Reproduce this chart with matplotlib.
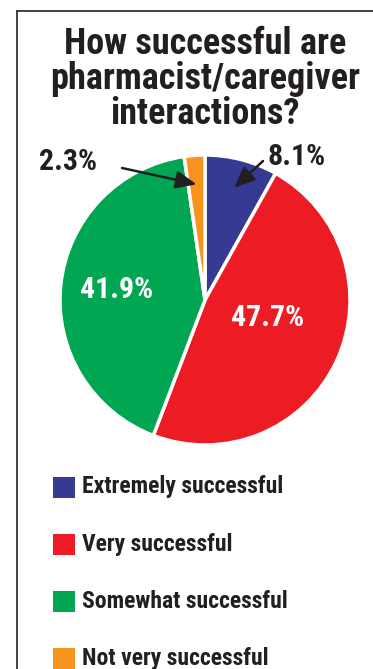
import matplotlib.pyplot as plt
import numpy as np
from matplotlib import font_manager
from matplotlib.lines import Line2D
from matplotlib.patches import Rectangle

categories = ['Extremely successful', 'Very successful', 'Somewhat successful', 'Not very successful']
shares = [8.1, 47.7, 41.9, 2.3]
colors = ['#353a93', '#ed1c24', '#00a651', '#f7941d']

# pick a narrow bold face if one is around
installed = {f.name for f in font_manager.fontManager.ttflist}
narrow = next((n for n in ['Roboto Condensed', 'Archivo Narrow', 'PT Sans Narrow',
                           'Liberation Sans Narrow', 'Encode Sans Condensed']
               if n in installed), None)
if narrow:
    plt.rcParams['font.family'] = [narrow, 'DejaVu Sans']
else:
    plt.rcParams['font.family'] = ['DejaVu Sans']
    plt.rcParams['font.stretch'] = 'condensed'

W, H = 373, 669
fig = plt.figure(figsize=(W / 100, H / 100), dpi=100)
ink = '#231f20'

# frame lines on top and left
fig.add_artist(Line2D([17 / W, 17 / W], [0, 1 - 11 / H], color='#333333', lw=1.3))
fig.add_artist(Line2D([17 / W, 1], [1 - 11 / H, 1 - 11 / H], color='#333333', lw=1.3))

fig.text(205 / W, 1 - 79 / H, 'How successful are\npharmacist/caregiver\ninteractions?',
         ha='center', va='center', fontsize=26, fontweight='bold', color=ink,
         linespacing=0.97)

# pie
cx, cy, r = 205, 300, 145
ax = fig.add_axes([(cx - r) / W, 1 - (cy + r) / H, 2 * r / W, 2 * r / H])
wedges, _ = ax.pie(shares, colors=colors, startangle=90, counterclock=False,
                   wedgeprops=dict(edgecolor='white', linewidth=2.5))
ax.set_xlim(-1, 1)
ax.set_ylim(-1, 1)
ax.set_aspect('equal')

def mid_angle(w, offset=0.0):
    return np.deg2rad((w.theta1 + w.theta2) / 2 + offset)

# labels inside the two big slices
for i, dist, off in [(1, 0.45, 9), (2, 0.61, 0)]:
    a = mid_angle(wedges[i], off)
    ax.text(dist * np.cos(a), dist * np.sin(a), f'{shares[i]}%', ha='center', va='center',
            color='white', fontsize=21.5, fontweight='bold')

# arrows for the small slices
for i, tx, ty, tail in [(0, 297, 157, (263, 161)), (3, 68, 162, (122, 168))]:
    a = mid_angle(wedges[i])
    fig.text(tx / W, 1 - ty / H, f'{shares[i]}%', ha='center', va='center',
             color=ink, fontsize=21.5, fontweight='bold')
    ax.annotate('', xy=(0.8 * np.cos(a), 0.8 * np.sin(a)), xycoords='data',
                xytext=(tail[0] / W, 1 - tail[1] / H), textcoords='figure fraction',
                arrowprops=dict(arrowstyle='-|>,head_length=0.7,head_width=0.3', color=ink,
                                lw=1.8, mutation_scale=18, shrinkA=0, shrinkB=0))

# legend
for k, (lab, col) in enumerate(zip(categories, colors)):
    y = 487 + k * 57
    fig.add_artist(Rectangle((53 / W, 1 - (y + 11) / H), 22 / W, 21 / H,
                             transform=fig.transFigure, color=col, lw=0))
    fig.text(82 / W, 1 - y / H, lab, ha='left', va='center', color=ink,
             fontsize=17, fontweight='bold')

fig.savefig('out.png', dpi=100)
